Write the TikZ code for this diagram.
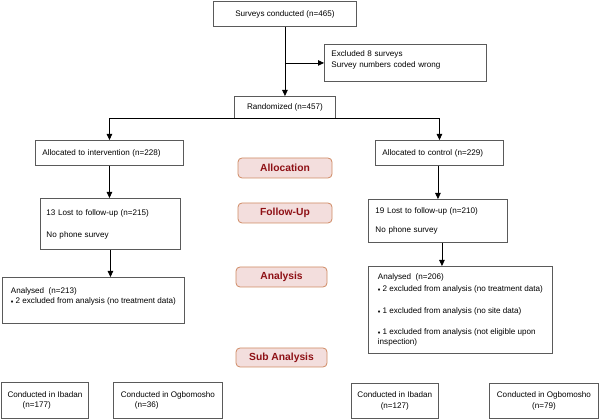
\documentclass[tikz,border=0pt]{standalone}
\usepackage{fontspec}
\setmainfont{Liberation Sans}
\usetikzlibrary{arrows.meta}
\definecolor{boxline}{HTML}{5A5A5A}
\definecolor{tagfill}{HTML}{F3DEDD}
\definecolor{tagline}{HTML}{CF8A63}
\definecolor{tagtext}{HTML}{8E1015}
\newcommand{\dmd}{{\fontsize{5}{5}\selectfont\raisebox{0.3pt}{♦}}\hspace{2.2pt}}

\tikzset{
  box/.style={draw=boxline, line width=0.9pt, anchor=north west, inner xsep=6pt, inner ysep=0pt,
    font=\fontsize{8.1}{10.5}\selectfont},
  tag/.style={draw=tagline, fill=tagfill, line width=0.8pt, rounded corners=4pt,
    minimum height=20pt, inner sep=0pt, text=tagtext, font=\fontsize{10.3}{12}\selectfont\bfseries},
  flow/.style={->, line width=0.8pt},
  >={Triangle[length=6pt,width=5.5pt]}
}

\begin{document}
\begin{tikzpicture}[x=1pt, y=-1pt]
\useasboundingbox (0,0) rectangle (600,419);

% boxes
\node[box, minimum width=143pt, minimum height=25pt] (surv) at (213,1) {Surveys conducted (n=465)};
\node[box, minimum width=162pt, minimum height=37pt, inner xsep=7pt, text width=148pt, align=left] (excl) at (324,44) {Excluded 8 surveys\\Survey numbers coded wrong\\[-2.5pt]\mbox{}};
\node[box, minimum width=101pt, minimum height=22pt] (rand) at (234,96) {Randomized (n=457)};
\node[box, minimum width=148pt, minimum height=25pt, inner xsep=7pt, text width=134pt, align=left] (alloc1) at (35,140) {Allocated to intervention (n=228)};
\node[box, minimum width=128pt, minimum height=25pt, inner xsep=7pt, text width=114pt, align=left] (alloc2) at (375,140) {Allocated to control (n=229)};
\node[box, minimum width=140pt, minimum height=51pt, text width=128pt, align=left] (lost1) at (40,198) {13 Lost to follow-up (n=215)\\[11.5pt]No phone survey};
\node[box, minimum width=139pt, minimum height=43pt, inner xsep=7pt, text width=125pt, align=left] (lost2) at (368,199) {19 Lost to follow-up (n=210)\\[8.5pt]No phone survey};
\node[box, minimum width=182pt, minimum height=46pt, align=left] (anal1) at (2,277) {Analysed\ \ (n=213)\\ \dmd 2 excluded from analysis (no treatment data)\\[-0.5pt]\mbox{}};
\node[box, minimum width=184pt, minimum height=87pt, align=left] (anal2) at (368,266) {Analysed\ \ (n=206)\\[1.5pt]
  \dmd 2 excluded from analysis (no treatment data)\\[11.5pt]
  \dmd 1 excluded from analysis (no site data)\\[10.5pt]
  \dmd 1 excluded from analysis (not eligible upon\\[-0.5pt]
  inspection)};
\node[box, minimum width=87pt, minimum height=36pt, align=left] (ibadan1) at (1,382) {Conducted in Ibadan\\\hspace*{15pt}(n=177)};
\node[box, minimum width=109pt, minimum height=36pt, align=left] (ogbo1) at (113,382) {Conducted in Ogbomosho\\\hspace*{14pt}(n=36)};
\node[box, minimum width=86pt, minimum height=35pt, align=center] (ibadan2) at (351,383) {Conducted in Ibadan\\(n=127)};
\node[box, minimum width=109pt, minimum height=35pt, align=center] (ogbo2) at (489,383) {Conducted in Ogbomosho\\(n=79)};

% stage tags
\node[tag, minimum width=94pt] (tagalloc) at (285,168) {Allocation};
\node[tag, minimum width=94pt] (tagfollow) at (285,213) {Follow-Up};
\node[tag, minimum width=91pt] (taganal) at (281.5,277) {Analysis};
\node[tag, minimum width=91pt, minimum height=19pt] (tagsub) at (281.5,357.5) {Sub Analysis};

% arrows
\draw[flow] (surv.south) -- (rand.north);
\draw[flow] (surv.south |- excl.west) -- (excl.west);
\draw[flow] (rand.south) -| (alloc1.north);
\draw[flow] (rand.south) -| (alloc2.north);
\draw[flow] (alloc1.south) -- (alloc1.south |- lost1.north);
\draw[flow] (lost2.north |- alloc2.south) -- (lost2.north);
\draw[flow] (lost1.south) -- (lost1.south |- anal1.north);
\draw[flow] ([xshift=4pt]lost2.south) -- ([xshift=4pt]lost2.south |- anal2.north);
\end{tikzpicture}
\end{document}
